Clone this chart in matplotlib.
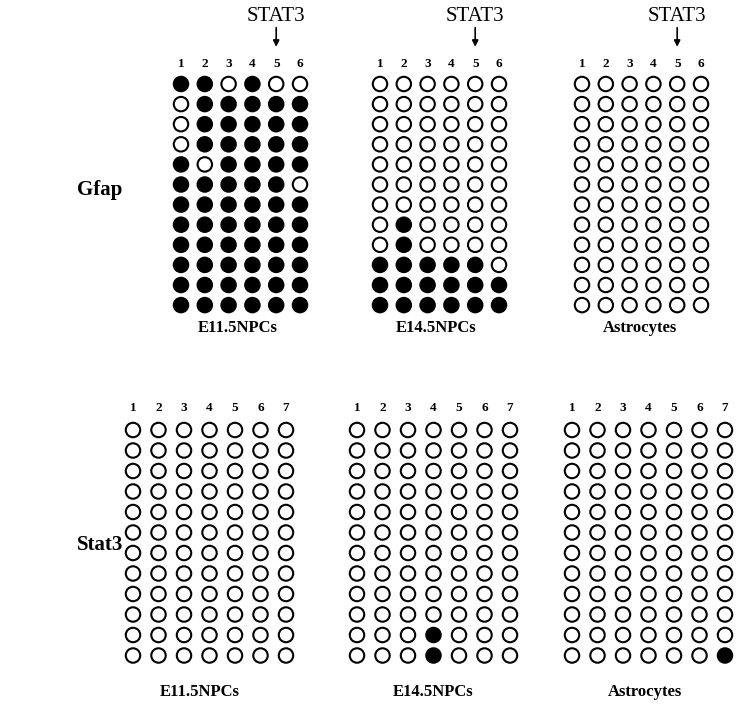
import numpy as np
import matplotlib
matplotlib.use("Agg")
import matplotlib.pyplot as plt

# methylation state per clone (rows) and CpG site (columns): 1 = methylated
gfap_e115 = [
    [1, 1, 0, 1, 0, 0],
    [0, 1, 1, 1, 1, 1],
    [0, 1, 1, 1, 1, 1],
    [0, 1, 1, 1, 1, 1],
    [1, 0, 1, 1, 1, 1],
    [1, 1, 1, 1, 1, 0],
    [1, 1, 1, 1, 1, 1],
    [1, 1, 1, 1, 1, 1],
    [1, 1, 1, 1, 1, 1],
    [1, 1, 1, 1, 1, 1],
    [1, 1, 1, 1, 1, 1],
    [1, 1, 1, 1, 1, 1],
]
gfap_e145 = [
    [0, 0, 0, 0, 0, 0],
    [0, 0, 0, 0, 0, 0],
    [0, 0, 0, 0, 0, 0],
    [0, 0, 0, 0, 0, 0],
    [0, 0, 0, 0, 0, 0],
    [0, 0, 0, 0, 0, 0],
    [0, 0, 0, 0, 0, 0],
    [0, 1, 0, 0, 0, 0],
    [0, 1, 0, 0, 0, 0],
    [1, 1, 1, 1, 1, 0],
    [1, 1, 1, 1, 1, 1],
    [1, 1, 1, 1, 1, 1],
]
gfap_astro = [[0] * 6 for _ in range(12)]

stat3_e115 = [[0] * 7 for _ in range(12)]
stat3_e145 = [[0] * 7 for _ in range(10)] + [
    [0, 0, 0, 1, 0, 0, 0],
    [0, 0, 0, 1, 0, 0, 0],
]
stat3_astro = [[0] * 7 for _ in range(11)] + [
    [0, 0, 0, 0, 0, 0, 1],
]

samples = ["E11.5NPCs", "E14.5NPCs", "Astrocytes"]
genes = ["Gfap", "Stat3"]
stat3_site = 5  # CpG site inside the STAT3 binding element of Gfap

W, H = 736, 706
fig = plt.figure(figsize=(W / 100, H / 100), dpi=100)
serif = "Liberation Serif"


def panel(data, x0, y0, dx, dy, numpad, mark_site=None):
    m = np.array(data)
    nr, nc = m.shape
    left = (x0 - dx / 2) / W
    bottom = 1 - (y0 - dy / 2 + nr * dy) / H
    ax = fig.add_axes([left, bottom, nc * dx / W, nr * dy / H])
    ax.set_xlim(-0.5, nc - 0.5)
    ax.set_ylim(nr - 0.5, -0.5)
    rr, cc = np.indices(m.shape)
    fill = np.where(m.ravel() == 1, "black", "white")
    ax.scatter(cc.ravel(), rr.ravel(), s=108, c=fill, edgecolors="black",
               linewidths=1.5, zorder=3)
    ax.set_xticks(range(nc))
    ax.set_xticklabels([str(i + 1) for i in range(nc)], family=serif,
                       fontsize=9.5, fontweight="bold")
    ax.xaxis.tick_top()
    ax.tick_params(axis="x", length=0, pad=numpad)
    ax.set_yticks([])
    for s in ax.spines.values():
        s.set_visible(False)
    ax.patch.set_alpha(0)
    if mark_site is not None:
        c = mark_site - 1
        ax.text(c, -3.35, "STAT3", ha="center", va="center", family=serif,
                fontsize=15, clip_on=False)
        ax.annotate("", xy=(c, -1.85), xytext=(c, -2.8),
                    arrowprops=dict(arrowstyle="-|>", color="black", lw=1.2,
                                    mutation_scale=9, shrinkA=0, shrinkB=0),
                    annotation_clip=False)
    return ax


top_x = [181, 380, 582]
for x0, d in zip(top_x, [gfap_e115, gfap_e145, gfap_astro]):
    panel(d, x0, 84, 23.8, 20.1, 3, mark_site=stat3_site)

bot_x = [133, 357, 572]
for x0, d in zip(bot_x, [stat3_e115, stat3_e145, stat3_astro]):
    panel(d, x0, 430, 25.5, 20.5, 4)

# sample names under each panel
for xc, name in zip([238, 436, 640], samples):
    fig.text(xc / W, 1 - 328 / H, name, ha="center", va="center",
             family=serif, fontweight="bold", fontsize=12)
for xc, name in zip([200, 433, 645], samples):
    fig.text(xc / W, 1 - 692 / H, name, ha="center", va="center",
             family=serif, fontweight="bold", fontsize=12)

# gene labels on the left
for yc, g in zip([190, 545], genes):
    fig.text(100 / W, 1 - yc / H, g, ha="center", va="center",
             family=serif, fontweight="bold", fontsize=15)

fig.savefig("out.png", dpi=100)
